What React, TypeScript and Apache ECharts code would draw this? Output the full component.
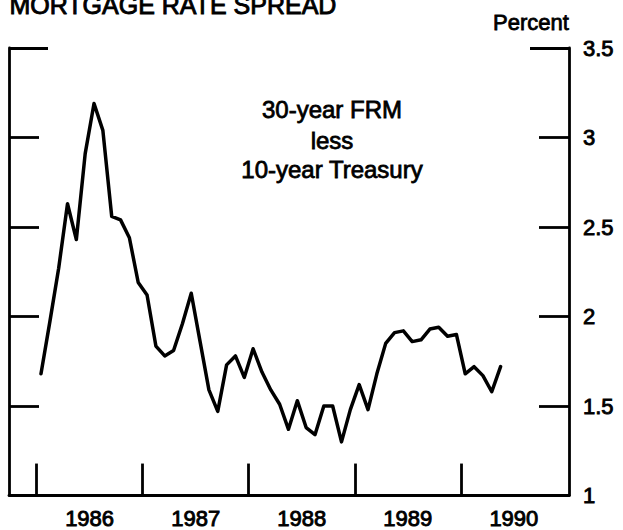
import React, { useEffect, useRef } from "react";
import * as echarts from "echarts";

// Monthly spread, 30-year FRM less 10-year Treasury (percent), Jan 1986 – May 1990
const startYear = 1986;
const spread1986 = [1.68, 1.97, 2.27, 2.63, 2.43, 2.91, 3.19, 3.04, 2.56, 2.54, 2.44, 2.19];
const spread1987 = [2.12, 1.835, 1.78, 1.81, 1.96, 2.13, 1.86, 1.59, 1.47, 1.73, 1.78, 1.66];
const spread1988 = [1.82, 1.69, 1.59, 1.51, 1.37, 1.53, 1.38, 1.34, 1.5, 1.5, 1.3, 1.48];
const spread1989 = [1.62, 1.48, 1.68, 1.85, 1.91, 1.92, 1.86, 1.87, 1.93, 1.94, 1.89, 1.9];
const spread1990 = [1.68, 1.72, 1.67, 1.58, 1.72];

const yearTicks = [1986, 1987, 1988, 1989, 1990];
const yMin = 1;
const yMax = 3.5;
const yStep = 0.5;

const FONT = "'Liberation Sans', Arial, Helvetica, sans-serif";

export default function App() {
  const ref = useRef<HTMLDivElement>(null);

  useEffect(() => {
    if (!ref.current) return;
    const chart = echarts.init(ref.current, undefined, { renderer: "svg" });
    const values = [...spread1986, ...spread1987, ...spread1988, ...spread1989, ...spread1990];
    const data = values.map((v, i) => [startYear + (i + 0.5) / 12, v]);

    const lineStyle = { color: "#000", width: 2.8 };
    const labelStyle = {
      color: "#000",
      fontSize: 22,
      fontFamily: FONT,
      textBorderColor: "#000",
      textBorderWidth: 0.9,
    };
    const textStyle = (text: string, x: number, y: number, size: number) => ({
      type: "text",
      x,
      y,
      style: {
        text,
        fill: "#000",
        font: `${size}px ${FONT}`,
        align: "center",
        verticalAlign: "middle",
        stroke: "#000",
        lineWidth: 0.8,
      },
    });

    const baseY = {
      type: "value" as const,
      min: yMin,
      max: yMax,
      interval: yStep,
      splitLine: { show: false },
    };

    chart.setOption({
      animation: false,
      backgroundColor: "#fff",
      grid: { left: 9, right: 54, top: 48, bottom: 32 },
      xAxis: {
        type: "value",
        min: 1985.74,
        max: 1991.02,
        axisLine: { show: true, onZero: false, lineStyle },
        axisTick: { show: true, inside: true, length: 32, customValues: yearTicks, lineStyle },
        axisLabel: {
          ...labelStyle,
          customValues: yearTicks.map((y) => y + 0.5),
          formatter: (v: number) => String(Math.floor(v)),
          margin: 12,
        },
        splitLine: { show: false },
      },
      yAxis: [
        {
          ...baseY,
          position: "left",
          axisLine: { show: true, onZero: false, lineStyle },
          axisTick: { show: true, inside: true, length: 30, lineStyle },
          axisLabel: { show: false },
        },
        {
          ...baseY,
          position: "right",
          axisLine: { show: true, onZero: false, lineStyle },
          axisTick: { show: true, inside: true, length: 30, lineStyle },
          axisLabel: { ...labelStyle, margin: 14 },
        },
        {
          ...baseY,
          position: "left",
          axisLine: { show: false },
          axisTick: { show: true, inside: true, length: 39, customValues: [yMax], lineStyle },
          axisLabel: { show: false },
        },
        {
          ...baseY,
          position: "right",
          axisLine: { show: false },
          axisTick: { show: true, inside: true, length: 39, customValues: [yMax], lineStyle },
          axisLabel: { show: false },
        },
      ],
      series: [
        {
          type: "line",
          yAxisIndex: 0,
          data,
          showSymbol: false,
          symbol: "none",
          lineStyle: { color: "#000", width: 3.5, join: "round", cap: "round" },
          clip: false,
        },
      ],
      graphic: [
        {
          type: "text",
          left: 9,
          top: -8,
          style: {
            text: "MORTGAGE RATE SPREAD",
            fill: "#000",
            font: `25px ${FONT}`,
            stroke: "#000",
            lineWidth: 0.9,
          },
        },
        textStyle("Percent", 531, 22, 22),
        textStyle("30-year FRM", 332, 109, 24),
        textStyle("less", 332, 140, 24),
        textStyle("10-year Treasury", 332, 169, 24),
      ],
    });

    return () => chart.dispose();
  }, []);

  return (
    <div
      ref={ref}
      style={{ position: "absolute", left: 0, top: 0, width: 623, height: 530 }}
    />
  );
}
